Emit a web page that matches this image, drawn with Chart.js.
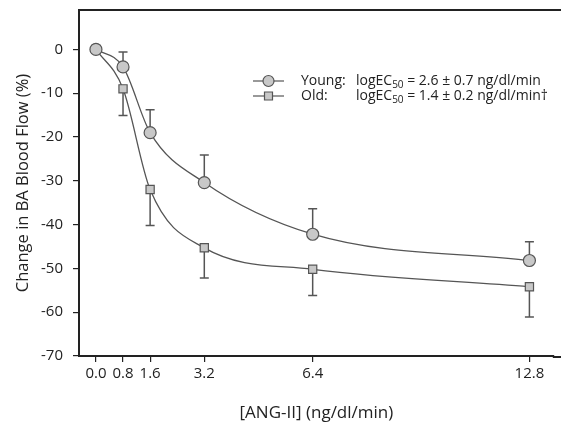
<!DOCTYPE html>
<html>
<head>
<meta charset="utf-8">
<script src="https://cdn.jsdelivr.net/npm/chart.js@4"></script>
<style>
  html, body { margin: 0; padding: 0; background: #fff; overflow: hidden; }
  canvas { display: block; }
</style>
</head>
<body>
<canvas id="flowChart" width="561" height="424"></canvas>
<script>
// ANG-II dose (ng/dl/min) and change in BA blood flow (%)
const doses = [0.0, 0.8, 1.6, 3.2, 6.4, 12.8];
const youngMean = [0, -4, -19, -30.4, -42.2, -48.2];
const youngErr = [0, 3.4, 5.2, 6.3, 5.8, 4.3];   // drawn upward
const oldMean = [0, -9, -32, -45.3, -50.2, -54.2];
const oldErr = [0, 6.1, 8.2, 6.9, 6.0, 6.9];     // drawn downward

const xTicks = [0.0, 0.8, 1.6, 3.2, 6.4, 12.8];
const yTicks = [0, -10, -20, -30, -40, -50, -60, -70];

const fontFamily = '"Open Sans", "DejaVu Sans", sans-serif';
const ink = '#555';
const axisInk = '#222';

// Error bars: one-sided (young up, old down)
const errorBarPlugin = {
    id: 'errorBars',
    beforeDatasetsDraw(chart) {
        const { ctx, scales: { x, y } } = chart;
        const sets = [
            { mean: youngMean, err: youngErr, dir: 1 },
            { mean: oldMean, err: oldErr, dir: -1 }
        ];
        ctx.save();
        ctx.strokeStyle = ink;
        ctx.lineWidth = 1.5;
        sets.forEach(s => {
            doses.forEach((d, i) => {
                if (!s.err[i]) return;
                const px = x.getPixelForValue(d);
                const py0 = y.getPixelForValue(s.mean[i]);
                const py1 = y.getPixelForValue(s.mean[i] + s.dir * s.err[i]);
                ctx.beginPath();
                ctx.moveTo(px, py0);
                ctx.lineTo(px, py1);
                ctx.moveTo(px - 4.5, py1);
                ctx.lineTo(px + 4.5, py1);
                ctx.stroke();
            });
        });
        ctx.restore();
    }
};

// Top frame line (and axis run-out to the canvas edge) + in-plot legend
const framePlugin = {
    id: 'frameAndLegend',
    afterDraw(chart) {
        const { ctx, chartArea: a } = chart;
        ctx.save();
        ctx.strokeStyle = axisInk;
        ctx.lineWidth = 2;
        ctx.beginPath();
        ctx.moveTo(a.left, a.top);
        ctx.lineTo(chart.width, a.top);
        ctx.moveTo(a.right - 1, a.bottom + 1);
        ctx.lineTo(chart.width, a.bottom + 1);
        ctx.stroke();

        const rows = [
            { y: 81, label: 'Young:', val: ' = 2.6 ± 0.7 ng/dl/min', style: 'circle' },
            { y: 96, label: 'Old:', val: ' = 1.4 ± 0.2 ng/dl/min†', style: 'rect' }
        ];
        rows.forEach(r => {
            ctx.strokeStyle = ink;
            ctx.lineWidth = 1.2;
            ctx.beginPath();
            ctx.moveTo(253, r.y);
            ctx.lineTo(284, r.y);
            ctx.stroke();
            ctx.fillStyle = '#c8c8c8';
            ctx.beginPath();
            if (r.style === 'circle') {
                ctx.arc(268.5, r.y, 5.5, 0, Math.PI * 2);
            } else {
                ctx.rect(264.5, r.y - 4, 8, 8);
            }
            ctx.fill();
            ctx.stroke();

            ctx.fillStyle = axisInk;
            ctx.textBaseline = 'middle';
            ctx.textAlign = 'left';
            ctx.font = '14px ' + fontFamily;
            ctx.fillText(r.label, 301, r.y);
            let tx = 356;
            ctx.fillText('logEC', tx, r.y);
            tx += ctx.measureText('logEC').width;
            ctx.font = '10px ' + fontFamily;
            ctx.fillText('50', tx, r.y + 4);
            tx += ctx.measureText('50').width;
            ctx.font = '14px ' + fontFamily;
            ctx.fillText(r.val, tx, r.y);
        });
        ctx.restore();
    }
};

const baseDataset = {
    borderColor: ink,
    borderWidth: 1.3,
    pointBackgroundColor: '#c8c8c8',
    pointBorderColor: ink,
    pointBorderWidth: 1.2,
    fill: false,
    cubicInterpolationMode: 'monotone'
};

new Chart(document.getElementById('flowChart'), {
    type: 'line',
    data: {
        datasets: [
            {
                ...baseDataset,
                label: 'Young',
                data: doses.map((d, i) => ({ x: d, y: youngMean[i] })),
                pointStyle: 'circle',
                pointRadius: 6
            },
            {
                ...baseDataset,
                label: 'Old',
                data: doses.map((d, i) => ({ x: d, y: oldMean[i] })),
                pointStyle: 'rect',
                pointRadius: 5.8
            }
        ]
    },
    options: {
        responsive: false,
        animation: false,
        layout: { padding: { top: 10, right: 0, left: 0, bottom: 0 } },
        plugins: {
            legend: { display: false },
            tooltip: { enabled: false }
        },
        scales: {
            x: {
                type: 'linear',
                min: -0.5,
                max: 13.52,
                afterBuildTicks: s => { s.ticks = xTicks.map(v => ({ value: v })); },
                afterFit: s => { s.height = 68; s.paddingLeft = 0; s.paddingRight = 0; },
                grid: { drawOnChartArea: false, drawTicks: true, tickLength: 6, color: axisInk, lineWidth: 1.2 },
                border: { display: true, color: axisInk, width: 2 },
                ticks: {
                    color: axisInk,
                    padding: 3,
                    maxRotation: 0,
                    autoSkip: false,
                    font: { family: fontFamily, size: 15 },
                    callback: v => Number(v).toFixed(1)
                },
                title: {
                    display: true,
                    text: '[ANG-II] (ng/dl/min)',
                    color: axisInk,
                    font: { family: fontFamily, size: 17 },
                    padding: { top: 0, bottom: 1 }
                }
            },
            y: {
                min: -70,
                max: 9,
                afterBuildTicks: s => { s.ticks = yTicks.map(v => ({ value: v })); },
                afterFit: s => { s.width = 79; s.paddingTop = 0; s.paddingBottom = 0; },
                grid: { drawOnChartArea: false, drawTicks: true, tickLength: 6, color: axisInk, lineWidth: 1.2 },
                border: { display: true, color: axisInk, width: 2 },
                ticks: {
                    color: axisInk,
                    padding: 10,
                    font: { family: fontFamily, size: 15 }
                },
                title: {
                    display: true,
                    text: 'Change in BA Blood Flow (%)',
                    color: axisInk,
                    font: { family: fontFamily, size: 16.5 },
                    padding: { top: 13, bottom: 0 }
                }
            }
        }
    },
    plugins: [errorBarPlugin, framePlugin]
});
</script>
</body>
</html>
